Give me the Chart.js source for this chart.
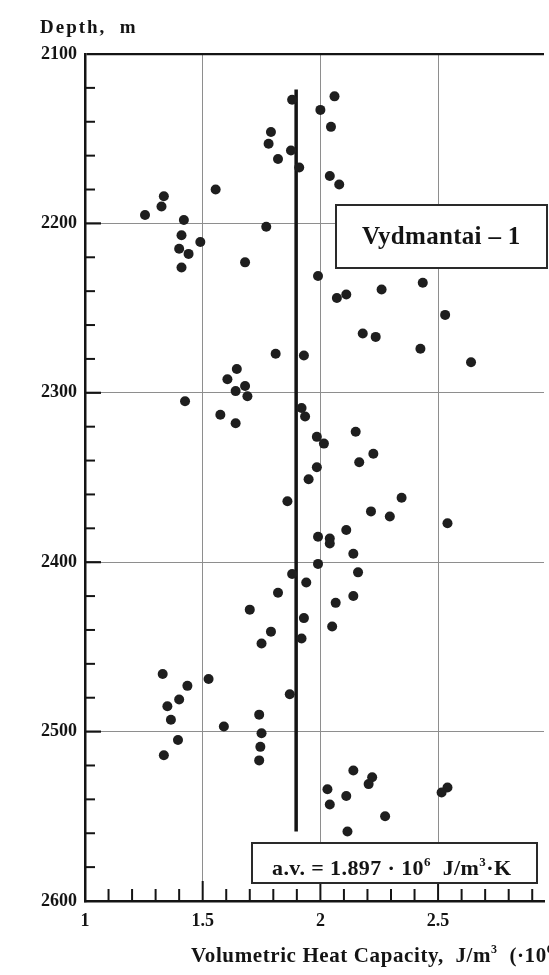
<!DOCTYPE html>
<html>
<head>
<meta charset="utf-8">
<script src="https://cdn.jsdelivr.net/npm/chart.js@4/dist/chart.umd.min.js"></script>
<style>
  html, body { margin: 0; padding: 0; background: #fff; overflow: hidden; }
  #wrap { width: 549px; height: 975px; position: relative; }
</style>
</head>
<body>
<div id="wrap"><canvas id="c" width="549" height="975"></canvas></div>
<script>
// Measured volumetric heat capacity (x10^6 J/m3·K) against depth, well Vydmantai-1
const heatCapacity = [
  1.88, 2.06, 2.00, 2.045, 1.79, 1.78, 1.82, 1.875, 1.91, 2.04,
  2.08, 1.555, 1.335, 1.325, 1.255, 1.42, 1.77, 1.41, 1.49, 1.40,
  1.44, 1.68, 1.41, 1.99, 2.435, 2.26, 2.11, 2.07, 2.53, 2.18,
  2.235, 2.425, 1.81, 1.93, 2.64, 1.645, 1.605, 1.68, 1.64, 1.69,
  1.425, 1.92, 1.575, 1.935, 1.64, 2.15, 1.985, 2.015, 2.225, 2.165,
  1.985, 1.95, 2.345, 1.86, 2.215, 2.295, 2.54, 2.11, 1.99, 2.04,
  2.04, 2.14, 1.99, 2.16, 1.88, 1.94, 1.82, 2.14, 2.065, 1.70,
  1.93, 2.05, 1.79, 1.92, 1.75, 1.33, 1.525, 1.435, 1.87, 1.40,
  1.35, 1.74, 1.365, 1.59, 1.75, 1.395, 1.745, 1.335, 1.74, 2.14,
  2.22, 2.205, 2.54, 2.03, 2.515, 2.11, 2.04, 2.275, 2.115
];
const depth = [
  2127, 2125, 2133, 2143, 2146, 2153, 2162, 2157, 2167, 2172,
  2177, 2180, 2184, 2190, 2195, 2198, 2202, 2207, 2211, 2215,
  2218, 2223, 2226, 2231, 2235, 2239, 2242, 2244, 2254, 2265,
  2267, 2274, 2277, 2278, 2282, 2286, 2292, 2296, 2299, 2302,
  2305, 2309, 2313, 2314, 2318, 2323, 2326, 2330, 2336, 2341,
  2344, 2351, 2362, 2364, 2370, 2373, 2377, 2381, 2385, 2386,
  2389, 2395, 2401, 2406, 2407, 2412, 2418, 2420, 2424, 2428,
  2433, 2438, 2441, 2445, 2448, 2466, 2469, 2473, 2478, 2481,
  2485, 2490, 2493, 2497, 2501, 2505, 2509, 2514, 2517, 2523,
  2527, 2531, 2533, 2534, 2536, 2538, 2543, 2550, 2559
];
const xTickValues = [1, 1.5, 2, 2.5];
const depthTickValues = [2100, 2200, 2300, 2400, 2500, 2600];
const averageValue = 1.897;          // a.v., x10^6 J/m3·K
const averageDepthSpan = [2121, 2559];
const wellName = 'Vydmantai \u2013 1';

const SERIF = '"Liberation Serif", "Times New Roman", serif';
const INK = '#141414';
const GRID = '#8e8e8e';

const points = heatCapacity.map((v, i) => ({ x: v, y: depth[i] }));
const averageLine = averageDepthSpan.map(d => ({ x: averageValue, y: d }));

// draws a sequence of text runs, some of them raised as superscripts
function drawRuns(ctx, x, y, runs, size, spacing) {
  ctx.letterSpacing = (spacing || 0) + 'px';
  for (const [text, sup] of runs) {
    const s = sup ? Math.round(size * 0.58) : size;
    ctx.font = 'bold ' + s + 'px ' + SERIF;
    ctx.fillText(text, x, sup ? y - size * 0.42 : y);
    x += ctx.measureText(text).width;
  }
  ctx.letterSpacing = '0px';
}

const decorations = {
  id: 'decorations',
  beforeDatasetsDraw(chart) {
    const { ctx, scales: { x, y }, chartArea: a } = chart;
    ctx.save();
    ctx.strokeStyle = INK;
    ctx.lineCap = 'butt';
    // inward tick marks along the depth axis (every 20 m)
    for (let d = 2120; d < 2600; d += 20) {
      const py = y.getPixelForValue(d);
      const major = d % 100 === 0;
      ctx.lineWidth = major ? 2.2 : 2;
      ctx.beginPath();
      ctx.moveTo(a.left, py);
      ctx.lineTo(a.left + (major ? 16 : 10), py);
      ctx.stroke();
    }
    // inward tick marks along the capacity axis (every 0.1)
    for (let k = 11; k <= 29; k++) {
      const px = x.getPixelForValue(k / 10);
      const major = k % 5 === 0;
      ctx.lineWidth = 2;
      ctx.beginPath();
      ctx.moveTo(px, a.bottom);
      ctx.lineTo(px, a.bottom - (major ? 20 : 12));
      ctx.stroke();
    }
    ctx.restore();
  },
  afterDatasetsDraw(chart) {
    const { ctx } = chart;
    ctx.save();
    ctx.fillStyle = INK;
    ctx.textBaseline = 'alphabetic';
    ctx.textAlign = 'left';

    // axis captions
    drawRuns(ctx, 40, 33, [['Depth,  m', false]], 19, 2);
    drawRuns(ctx, 191, 962, [
      ['Volumetric Heat Capacity,  J/m', false], ['3', true], ['  (\u00b710', false], ['6', true], [')', false]
    ], 21, 0.6);

    // well name box
    ctx.fillStyle = '#fff';
    ctx.fillRect(336, 205, 211, 63);
    ctx.strokeStyle = '#2a2a2a';
    ctx.lineWidth = 2;
    ctx.strokeRect(336, 205, 211, 63);
    ctx.fillStyle = INK;
    drawRuns(ctx, 362, 244, [[wellName, false]], 25, 0.3);

    // average value box
    ctx.fillStyle = '#fff';
    ctx.fillRect(252, 843, 285, 40);
    ctx.strokeStyle = '#2a2a2a';
    ctx.strokeRect(252, 843, 285, 40);
    ctx.fillStyle = INK;
    drawRuns(ctx, 272, 875, [
      ['a.v. = ' + averageValue.toFixed(3) + ' \u00b7 10', false], ['6', true],
      ['  J/m', false], ['3', true], ['\u00b7K', false]
    ], 22, 0.4);
    ctx.restore();
  }
};

new Chart(document.getElementById('c'), {
  type: 'scatter',
  data: {
    datasets: [
      {
        type: 'line',
        data: averageLine,
        borderColor: INK,
        borderWidth: 3.5,
        pointRadius: 0,
        fill: false,
        order: 1
      },
      {
        data: points,
        backgroundColor: '#1e1e1e',
        borderColor: '#1e1e1e',
        borderWidth: 0,
        pointRadius: 5,
        order: 0
      }
    ]
  },
  options: {
    responsive: false,
    devicePixelRatio: 1,
    animation: false,
    events: [],
    layout: { padding: { top: 54, right: 0, bottom: 0, left: 0 } },
    plugins: { legend: { display: false }, tooltip: { enabled: false } },
    scales: {
      x: {
        type: 'linear',
        min: 1,
        max: 2.95,
        afterBuildTicks(scale) { scale.ticks = xTickValues.map(v => ({ value: v })); },
        afterFit(scale) { scale.height = 74; },
        grid: {
          drawTicks: false,
          color: ctx => ctx.tick && ctx.tick.value === 1 ? 'rgba(0,0,0,0)' : GRID,
          lineWidth: 1
        },
        border: { display: true, color: INK, width: 2.5 },
        ticks: {
          autoSkip: false,
          maxRotation: 0,
          padding: 10,
          color: INK,
          font: { family: SERIF, size: 18, weight: 'bold' },
          callback: v => String(v)
        }
      },
      y: {
        type: 'linear',
        reverse: true,
        min: 2100,
        max: 2600,
        afterBuildTicks(scale) { scale.ticks = depthTickValues.map(v => ({ value: v })); },
        afterFit(scale) { scale.width = 85; },
        grid: {
          drawTicks: false,
          color: ctx => {
            const v = ctx.tick && ctx.tick.value;
            if (v === 2100) return INK;
            if (v === 2600) return 'rgba(0,0,0,0)';
            return GRID;
          },
          lineWidth: ctx => (ctx.tick && ctx.tick.value === 2100 ? 2.2 : 1)
        },
        border: { display: true, color: INK, width: 2.5 },
        ticks: {
          autoSkip: false,
          padding: 8,
          color: INK,
          font: { family: SERIF, size: 18, weight: 'bold' },
          callback: v => String(v)
        }
      }
    }
  },
  plugins: [decorations]
});
</script>
</body>
</html>
